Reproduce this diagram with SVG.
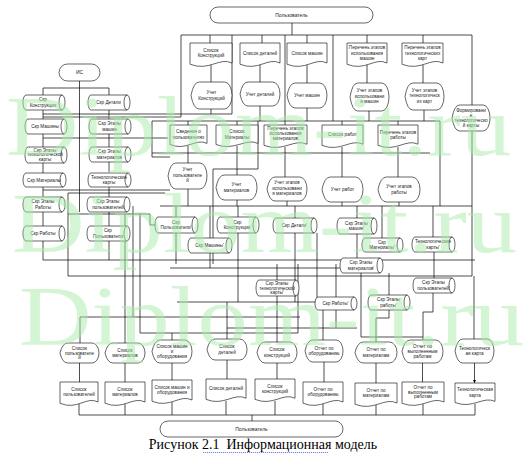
<svg xmlns="http://www.w3.org/2000/svg" width="523" height="460" viewBox="0 0 523 460">
<defs>
<style>
.s{fill:#fff;stroke:#000;stroke-width:0.6}
.n{fill:none;stroke:#000;stroke-width:0.6}
.c{fill:none;stroke:#000;stroke-width:0.7}
.t{font-family:"Liberation Sans",Arial,sans-serif;font-size:4.6px;fill:#222;text-anchor:middle}
.tt{font-family:"Liberation Sans",Arial,sans-serif;font-size:5px;fill:#222;text-anchor:middle}
.wm{font-family:"Liberation Serif","Times New Roman",serif;font-size:84px;fill:#a8eca8;opacity:0.5}
</style>
<marker id="ar" viewBox="0 0 6 6" refX="6" refY="3" markerWidth="5" markerHeight="5" orient="auto"><path d="M0,0L6,3L0,6z" fill="#000"/></marker>
</defs>
<rect width="523" height="460" fill="#fff"/>
<g id="connectors">
<path class="c" d="M292,23V35M181,35H472M181,35V117M210,35V43M232,35V114M262,35V43M285,35V121M307,35V43M333,35V121M367,35V43M423,35V43M472,35V105
M211,65V82M260,65V82M307,65V83M367,65V83M423,65V83
M211,109V114M260,106V121M307,108V121M369,111V121M424,110V121M43,114H232M43,117H181M152,121H440M440,121V206
M188,121V125M237,121V125M285,121V125M342,121V125M398,121V125
M43,88H109M43,88V95M109,88V95M43,110V119M109,110V119M43,134V147M109,134V147M43,163V173M109,162V173M43,187V197M109,187V197M43,212V226M109,212V226M43,241V260M109,241V260
M43,138H168M43,190H170M68,193H165M68,193V276M68,214H150V225H155M43,260H475M68,276H472
M125,214V343M133,206V317M140,214V333M80,317V343M80,317H300M140,333H298M172,333V340
M152,121V157H170M188,146V163M237,146V175M285,147V177M342,147V177M398,147V177M152,153H430M213,169H258M258,121V169M213,169V264
M188,189V206M237,200V206M287,201V206M342,202V206M399,202V206M160,206H472
M176,206V217M210,206V238M238,206V217M295,206V218M357,206V218M382,206V238M433,206V237M357,234V258M277,264V280M434,252V278M336,264V297M389,273V295M472,131V276M170,268H340
M176,233V264M210,253V268M238,233V302M295,233V302M317,233V302M277,296V342M227,302V339M177,302H330M323,302V340M336,310V328M389,310V318H376V342M433,293V312H423V340M474,276V339M361,273V337H423M227,328H357M298,264V333"/>
<path class="c" d="M79.5,81V212" stroke-width="1.4"/>
<path class="c" marker-end="url(#ar)" d="M79.5,363V382M125,363V382M172,363V380M227,360V379M277,363V379M324,362V382M376,363V383M422.5,363V382M474.5,363V383"/>
<path class="c" d="M79,404V415M125,404V415M172,402V415M226,401V415M275,401V415M323,404V415M376,405V415M423,404V415M475,404V415M79,415H475M252,415V421"/>
</g>
<g id="user-top"><rect class="s" x="210" y="7" width="163" height="16" rx="8"/><text class="tt" x="291.5" y="16.6">Пользователь</text></g>
<g id="d1"><path class="s" d="M190,43h42v20c-12.6,-6.25 -23.1,8.75 -42,1.25z"/><text class="t" x="211" y="51.9">Список<tspan x="211" dy="5.5">Конструкций</tspan></text></g>
<g id="d2"><path class="s" d="M240,43h40v20c-12,-6.25 -22,8.75 -40,1.25z"/><text class="t" x="260" y="54.6">Список деталей</text></g>
<g id="d3"><path class="s" d="M287,43h40v20c-12,-6.25 -22,8.75 -40,1.25z"/><text class="t" x="307" y="54.6">Список машин</text></g>
<g id="d4"><path class="s" d="M347,43h40v20c-12,-6.25 -22,8.75 -40,1.25z"/><text class="t" x="367" y="49.1">Перечень этапов<tspan x="367" dy="5.5">использования</tspan><tspan x="367" dy="5.5">машин</tspan></text></g>
<g id="d5"><path class="s" d="M402,43h41v20c-12.3,-6.25 -22.55,8.75 -41,1.25z"/><text class="t" x="422.5" y="49.1">Перечень этапов<tspan x="422.5" dy="5.5">технологических</tspan><tspan x="422.5" dy="5.5">карт</tspan></text></g>
<g id="p1"><path class="s" d="M191,95.5Q193.5,82 199.2,82H224.6A7.4,13.5 0 0 1 224.6,109H199.2Q193.5,109 191,95.5Z"/><text class="t" x="211.5" y="94.4">Учет<tspan x="211.5" dy="5.5">Конструкций</tspan></text></g>
<g id="p2"><path class="s" d="M240,94Q242.4,82 248,82H272.8A7.2,12 0 0 1 272.8,106H248Q242.4,106 240,94Z"/><text class="t" x="260" y="95.6">Учет деталей</text></g>
<g id="p3"><path class="s" d="M287,95.5Q289.4,83 295,83H319.8A7.2,12.5 0 0 1 319.8,108H295Q289.4,108 287,95.5Z"/><text class="t" x="307" y="97.1">Учет машин</text></g>
<g id="p4"><path class="s" d="M350,97Q352.3,83 357.8,83H382A7,14 0 0 1 382,111H357.8Q352.3,111 350,97Z"/><text class="t" x="369.5" y="92.1">Учет этапов<tspan x="369.5" dy="5.5">использовани</tspan><tspan x="369.5" dy="5.5">я машин</tspan></text></g>
<g id="p5"><path class="s" d="M405,96.5Q407.3,83 412.8,83H437A7,13.5 0 0 1 437,110H412.8Q407.3,110 405,96.5Z"/><text class="t" x="424.5" y="91.6">Учет этапов<tspan x="424.5" dy="5.5">технологическ</tspan><tspan x="424.5" dy="5.5">их карт</tspan></text></g>
<g id="p6"><path class="s" d="M452,118Q454.3,105 459.6,105H483.2A6.8,13 0 0 1 483.2,131H459.6Q454.3,131 452,118Z"/><text class="t" x="471" y="112">Формировани<tspan x="471" dy="5">е</tspan><tspan x="471" dy="5">технологическо</tspan><tspan x="471" dy="5">й карты</tspan></text></g>
<g id="is"><rect class="s" x="59" y="64" width="41" height="17" rx="8.5"/><text class="tt" x="79.5" y="74.2">ИС</text></g>
<g id="c1"><path class="s" d="M26,95H62A3,7.5 0 0 1 62,110H26A3,7.5 0 0 1 26,95Z"/><path class="n" d="M62,95A3,7.5 0 0 0 62,110"/><text class="t" x="43" y="101.4">Скр<tspan x="43" dy="5.5">Конструкции</tspan></text></g>
<g id="c2"><path class="s" d="M91,95H127A3,7.5 0 0 1 127,110H91A3,7.5 0 0 1 91,95Z"/><path class="n" d="M127,95A3,7.5 0 0 0 127,110"/><text class="t" x="108.5" y="104.1">Скр Детали</text></g>
<g id="c3"><path class="s" d="M28,119H64A3,7.5 0 0 1 64,134H28A3,7.5 0 0 1 28,119Z"/><path class="n" d="M64,119A3,7.5 0 0 0 64,134"/><text class="t" x="45" y="128.1">Скр Машины</text></g>
<g id="c4"><path class="s" d="M92,119H128A3,7.5 0 0 1 128,134H92A3,7.5 0 0 1 92,119Z"/><path class="n" d="M128,119A3,7.5 0 0 0 128,134"/><text class="t" x="109.5" y="125.4">Скр Этапы<tspan x="109.5" dy="5.5">машин</tspan></text></g>
<g id="c5"><path class="s" d="M28,147H64A3,8 0 0 1 64,163H28A3,8 0 0 1 28,147Z"/><path class="n" d="M64,147A3,8 0 0 0 64,163"/><text class="t" x="45" y="151.6">Скр Этапы<tspan x="45" dy="4.8">технологической</tspan><tspan x="45" dy="4.8">карты</tspan></text></g>
<g id="c6"><path class="s" d="M92,147H128A3,7.5 0 0 1 128,162H92A3,7.5 0 0 1 92,147Z"/><path class="n" d="M128,147A3,7.5 0 0 0 128,162"/><text class="t" x="109.5" y="153.4">Скр Этапы<tspan x="109.5" dy="5.5">материалов</tspan></text></g>
<g id="c7"><path class="s" d="M26,173H63A3,7 0 0 1 63,187H26A3,7 0 0 1 26,173Z"/><path class="n" d="M63,173A3,7 0 0 0 63,187"/><text class="t" x="44" y="181.6">Скр Материалы</text></g>
<g id="c8"><path class="s" d="M91,173H128A3,7 0 0 1 128,187H91A3,7 0 0 1 91,173Z"/><path class="n" d="M128,173A3,7 0 0 0 128,187"/><text class="t" x="109" y="178.9">Технологические<tspan x="109" dy="5.5">карты</tspan></text></g>
<g id="c9"><path class="s" d="M26,197H62A3,7.5 0 0 1 62,212H26A3,7.5 0 0 1 26,197Z"/><path class="n" d="M62,197A3,7.5 0 0 0 62,212"/><text class="t" x="43" y="203.4">Скр Этапы<tspan x="43" dy="5.5">Работы</tspan></text></g>
<g id="c10"><path class="s" d="M90,197H127A3,7.5 0 0 1 127,212H90A3,7.5 0 0 1 90,197Z"/><path class="n" d="M127,197A3,7.5 0 0 0 127,212"/><text class="t" x="108" y="203.4">Скр Этапы<tspan x="108" dy="5.5">пользователей</tspan></text></g>
<g id="c11"><path class="s" d="M26,226H62A3,7.5 0 0 1 62,241H26A3,7.5 0 0 1 26,226Z"/><path class="n" d="M62,226A3,7.5 0 0 0 62,241"/><text class="t" x="43" y="235.1">Скр Работы</text></g>
<g id="c12"><path class="s" d="M90,226H127A3,7.5 0 0 1 127,241H90A3,7.5 0 0 1 90,226Z"/><path class="n" d="M127,226A3,7.5 0 0 0 127,241"/><text class="t" x="108" y="232.4">Скр<tspan x="108" dy="5.5">Пользователи</tspan></text></g>
<g id="d6"><path class="s" d="M170,125h37v18.4c-11.1,-5.75 -20.35,8.05 -37,1.15z"/><text class="t" x="188.5" y="133.1">Сведения о<tspan x="188.5" dy="5.5">пользователях</tspan></text></g>
<g id="d7"><path class="s" d="M216,125h42v18.4c-12.6,-5.75 -23.1,8.05 -42,1.15z"/><text class="t" x="237" y="133.1">Список<tspan x="237" dy="5.5">Материалы</tspan></text></g>
<g id="d8"><path class="s" d="M264,125h43v19.2c-12.9,-6 -23.65,8.4 -43,1.2z"/><text class="t" x="285.5" y="129.9">Перечень этапов<tspan x="285.5" dy="5.2">использования</tspan><tspan x="285.5" dy="5.2">материалов</tspan></text></g>
<g id="d9"><path class="s" d="M322,125h41v19.2c-12.3,-6 -22.55,8.4 -41,1.2z"/><text class="t" x="342.5" y="136.2">Список работ</text></g>
<g id="d10"><path class="s" d="M378,125h40v19.2c-12,-6 -22,8.4 -40,1.2z"/><text class="t" x="398" y="133.5">Перечень этапов<tspan x="398" dy="5.5">работы</tspan></text></g>
<g id="p7"><path class="s" d="M168,176Q170.3,163 175.8,163H200A7,13 0 0 1 200,189H175.8Q170.3,189 168,176Z"/><text class="t" x="187.5" y="171.1">Учет<tspan x="187.5" dy="5.5">пользователе</tspan><tspan x="187.5" dy="5.5">й</tspan></text></g>
<g id="p8"><path class="s" d="M216,187.5Q218.5,175 224.2,175H249.6A7.4,12.5 0 0 1 249.6,200H224.2Q218.5,200 216,187.5Z"/><text class="t" x="236.5" y="186.4">Учет<tspan x="236.5" dy="5.5">материалов</tspan></text></g>
<g id="p9"><path class="s" d="M267,189Q269.4,177 275,177H299.8A7.2,12 0 0 1 299.8,201H275Q269.4,201 267,189Z"/><text class="t" x="287" y="184.1">Учет этапов<tspan x="287" dy="5.5">использовани</tspan><tspan x="287" dy="5.5">я материалов</tspan></text></g>
<g id="p10"><path class="s" d="M322,189.5Q324.5,177 330.2,177H355.6A7.4,12.5 0 0 1 355.6,202H330.2Q324.5,202 322,189.5Z"/><text class="t" x="342.5" y="191.1">Учет работ</text></g>
<g id="p11"><path class="s" d="M378,189.5Q380.5,177 386.4,177H412.4A7.6,12.5 0 0 1 412.4,202H386.4Q380.5,202 378,189.5Z"/><text class="t" x="399" y="188.4">Учет этапов<tspan x="399" dy="5.5">работы</tspan></text></g>
<g id="m1"><path class="s" d="M158,217H195A3,8 0 0 1 195,233H158A3,8 0 0 1 158,217Z"/><path class="n" d="M195,217A3,8 0 0 0 195,233"/><text class="t" x="176" y="223.9">Скр<tspan x="176" dy="5.5">Пользователи'</tspan></text></g>
<g id="m2"><path class="s" d="M191,238H229A3,7.5 0 0 1 229,253H191A3,7.5 0 0 1 191,238Z"/><path class="n" d="M229,238A3,7.5 0 0 0 229,253"/><text class="t" x="209.5" y="247.1">Скр Машины'</text></g>
<g id="m3"><path class="s" d="M220,217H256A3,8 0 0 1 256,233H220A3,8 0 0 1 220,217Z"/><path class="n" d="M256,217A3,8 0 0 0 256,233"/><text class="t" x="237.5" y="223.9">Скр<tspan x="237.5" dy="5.5">Конструкции'</tspan></text></g>
<g id="m4"><path class="s" d="M276,218H314A3,7.5 0 0 1 314,233H276A3,7.5 0 0 1 276,218Z"/><path class="n" d="M314,218A3,7.5 0 0 0 314,233"/><text class="t" x="294.5" y="227.1">Скр Детали'</text></g>
<g id="m5"><path class="s" d="M340,218H374A3,8 0 0 1 374,234H340A3,8 0 0 1 340,218Z"/><path class="n" d="M374,218A3,8 0 0 0 374,234"/><text class="t" x="356.5" y="224.9">Скр Этапы<tspan x="356.5" dy="5.5">машин'</tspan></text></g>
<g id="m6"><path class="s" d="M365,238H400A3,7 0 0 1 400,252H365A3,7 0 0 1 365,238Z"/><path class="n" d="M400,238A3,7 0 0 0 400,252"/><text class="t" x="382" y="243.9">Скр<tspan x="382" dy="5.5">Материалы'</tspan></text></g>
<g id="m7"><path class="s" d="M415,237H452A3,7.5 0 0 1 452,252H415A3,7.5 0 0 1 415,237Z"/><path class="n" d="M452,237A3,7.5 0 0 0 452,252"/><text class="t" x="433" y="243.4">Технологические<tspan x="433" dy="5.5">карты'</tspan></text></g>
<g id="m8"><path class="s" d="M343,258H380A3,7.5 0 0 1 380,273H343A3,7.5 0 0 1 343,258Z"/><path class="n" d="M380,258A3,7.5 0 0 0 380,273"/><text class="t" x="361" y="264.4">Скр Этапы<tspan x="361" dy="5.5">материалов'</tspan></text></g>
<g id="m9"><path class="s" d="M259,280H296A3,8 0 0 1 296,296H259A3,8 0 0 1 259,280Z"/><path class="n" d="M296,280A3,8 0 0 0 296,296"/><text class="t" x="277" y="284.8">Скр Этапы<tspan x="277" dy="4.8">технологической</tspan><tspan x="277" dy="4.8">карты'</tspan></text></g>
<g id="m10"><path class="s" d="M416,278H452A3,7.5 0 0 1 452,293H416A3,7.5 0 0 1 416,278Z"/><path class="n" d="M452,278A3,7.5 0 0 0 452,293"/><text class="t" x="433.5" y="284.4">Скр Этапы<tspan x="433.5" dy="5.5">пользователей'</tspan></text></g>
<g id="m11"><path class="s" d="M318,297H354A3,6.5 0 0 1 354,310H318A3,6.5 0 0 1 318,297Z"/><path class="n" d="M354,297A3,6.5 0 0 0 354,310"/><text class="t" x="335.5" y="305.1">Скр Работы'</text></g>
<g id="m12"><path class="s" d="M371,295H407A3,7.5 0 0 1 407,310H371A3,7.5 0 0 1 371,295Z"/><path class="n" d="M407,295A3,7.5 0 0 0 407,310"/><text class="t" x="388.5" y="301.4">Скр Этапы<tspan x="388.5" dy="5.5">работы'</tspan></text></g>
<g id="b1"><path class="s" d="M60,353Q62.3,343 67.8,343H92A7,10 0 0 1 92,363H67.8Q62.3,363 60,353Z"/><text class="t" x="79.5" y="349.8">Список<tspan x="79.5" dy="4.8">пользователе</tspan><tspan x="79.5" dy="4.8">й</tspan></text></g>
<g id="b2"><path class="s" d="M105,353Q107.4,343 113,343H137.8A7.2,10 0 0 1 137.8,363H113Q107.4,363 105,353Z"/><text class="t" x="125" y="351.9">Список<tspan x="125" dy="5.5">материалов</tspan></text></g>
<g id="b3"><path class="s" d="M152,351.5Q154.4,340 160,340H184.8A7.2,11.5 0 0 1 184.8,363H160Q154.4,363 152,351.5Z"/><text class="t" x="172" y="348.3">Список машин<tspan x="172" dy="4.8">и</tspan><tspan x="172" dy="4.8">оборудования</tspan></text></g>
<g id="b4"><path class="s" d="M207,349.5Q209.4,339 215,339H239.8A7.2,10.5 0 0 1 239.8,360H215Q209.4,360 207,349.5Z"/><text class="t" x="227" y="348.4">Список<tspan x="227" dy="5.5">деталей</tspan></text></g>
<g id="b5"><path class="s" d="M257,352.5Q259.4,342 265,342H289.8A7.2,10.5 0 0 1 289.8,363H265Q259.4,363 257,352.5Z"/><text class="t" x="277" y="351.4">Список<tspan x="277" dy="5.5">конструкций</tspan></text></g>
<g id="b6"><path class="s" d="M305,351Q307.3,340 312.6,340H336.2A6.8,11 0 0 1 336.2,362H312.6Q307.3,362 305,351Z"/><text class="t" x="324" y="349.9">Отчет по<tspan x="324" dy="5.5">оборудованию</tspan></text></g>
<g id="b7"><path class="s" d="M355,352.5Q357.5,342 363.4,342H389.4A7.6,10.5 0 0 1 389.4,363H363.4Q357.5,363 355,352.5Z"/><text class="t" x="376" y="351.4">Отчет по<tspan x="376" dy="5.5">материалам</tspan></text></g>
<g id="b8"><path class="s" d="M402,351.5Q404.5,340 410.2,340H435.6A7.4,11.5 0 0 1 435.6,363H410.2Q404.5,363 402,351.5Z"/><text class="t" x="422.5" y="348.3">Отчет по<tspan x="422.5" dy="4.8">выполненным</tspan><tspan x="422.5" dy="4.8">работам</tspan></text></g>
<g id="b9"><path class="s" d="M455,351Q457.3,339 462.8,339H487A7,12 0 0 1 487,363H462.8Q457.3,363 455,351Z"/><text class="t" x="474.5" y="349.9">Технологическ<tspan x="474.5" dy="5.5">ая карта</tspan></text></g>
<g id="e1"><path class="s" d="M60,382h38v20c-11.4,-6.25 -20.9,8.75 -38,1.25z"/><text class="t" x="79" y="390.9">Список<tspan x="79" dy="5.5">пользователей</tspan></text></g>
<g id="e2"><path class="s" d="M105,382h40v20c-12,-6.25 -22,8.750 -40,1.25z"/><text class="t" x="125" y="390.9">Список<tspan x="125" dy="5.5">материалов</tspan></text></g>
<g id="e3"><path class="s" d="M152,380h40v20c-12,-6.25 -22,8.75 -40,1.25z"/><text class="t" x="172" y="388.9">Список машин и<tspan x="172" dy="5.5">оборудования</tspan></text></g>
<g id="e4"><path class="s" d="M206,379h40v19.2c-12,-6 -22,8.4 -40,1.2z"/><text class="t" x="226" y="390.2">Список деталей</text></g>
<g id="e5"><path class="s" d="M255,379h40v19.2c-12,-6 -22,8.4 -40,1.2z"/><text class="t" x="275" y="387.5">Список<tspan x="275" dy="5.5">конструкций</tspan></text></g>
<g id="e6"><path class="s" d="M303,382h40v20c-12,-6.25 -22,8.75 -40,1.25z"/><text class="t" x="323" y="390.9">Отчет по<tspan x="323" dy="5.5">оборудованию</tspan></text></g>
<g id="e7"><path class="s" d="M355,383h42v20c-12.6,-6.25 -23.1,8.75 -42,1.25z"/><text class="t" x="376" y="391.9">Отчет по<tspan x="376" dy="5.5">материалам</tspan></text></g>
<g id="e8"><path class="s" d="M402,382h42v20c-12.6,-6.25 -23.1,8.75 -42,1.25z"/><text class="t" x="423" y="388.8">Отчет по<tspan x="423" dy="4.8">выполненным</tspan><tspan x="423" dy="4.8">работам</tspan></text></g>
<g id="e9"><path class="s" d="M455,383h40v18.4c-12,-5.75 -22,8.05 -40,1.15z"/><text class="t" x="475" y="391.1">Технологическая<tspan x="475" dy="5.5">карта</tspan></text></g>
<g id="user-bottom"><rect class="s" x="160" y="421" width="183" height="16" rx="8"/><text class="tt" x="251.5" y="430.6">Пользователь</text></g>
<g id="watermark">
<text class="wm" x="6" y="155" textLength="505" lengthAdjust="spacingAndGlyphs">Diplom-it.ru</text>
<text class="wm" x="12" y="252" textLength="505" lengthAdjust="spacingAndGlyphs">Diplom-it.ru</text>
<text class="wm" x="19" y="345" textLength="505" lengthAdjust="spacingAndGlyphs">Diplom-it.ru</text>
</g>
<g id="caption">
<text x="263" y="449" font-family="Liberation Serif, Times New Roman, serif" font-size="14" fill="#000" text-anchor="middle" xml:space="preserve">Рисунок 2.1  Информационная модель</text>
<path d="M203,452.5h125" stroke="#3a4fd0" stroke-width="0.7" stroke-dasharray="1.2,0.8" fill="none"/>
</g>
</svg>
